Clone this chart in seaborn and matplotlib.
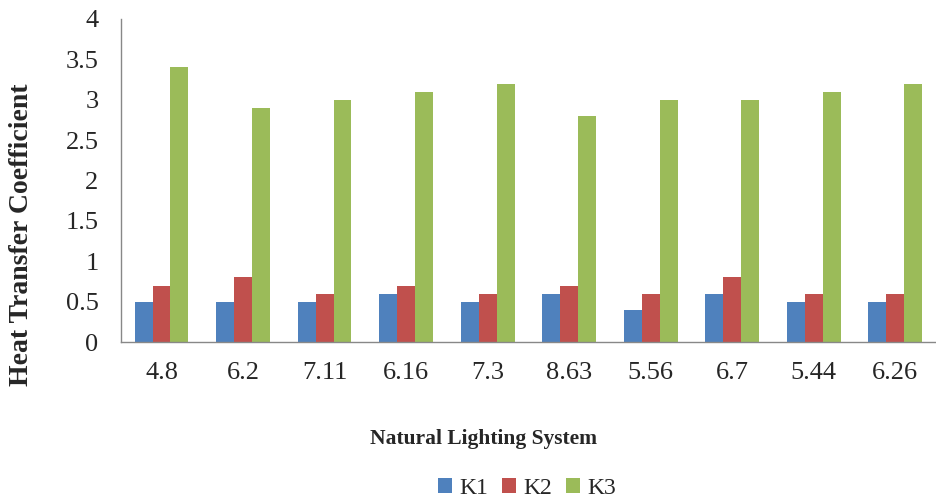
import matplotlib
matplotlib.use("Agg")
import matplotlib.pyplot as plt
import seaborn as sns
import pandas as pd
import numpy as np
from matplotlib.ticker import FixedLocator

categories = ["4.8", "6.2", "7.11", "6.16", "7.3", "8.63", "5.56", "6.7", "5.44", "6.26"]
k1 = [0.5, 0.5, 0.5, 0.6, 0.5, 0.6, 0.4, 0.6, 0.5, 0.5]
k2 = [0.7, 0.8, 0.6, 0.7, 0.6, 0.7, 0.6, 0.8, 0.6, 0.6]
k3 = [3.4, 2.9, 3.0, 3.1, 3.2, 2.8, 3.0, 3.0, 3.1, 3.2]
series = ["K1", "K2", "K3"]
yticks = [0, 0.5, 1, 1.5, 2, 2.5, 3, 3.5, 4]
ytick_labels = ["0", "0.5", "1", "1.5", "2", "2.5", "3", "3.5", "4"]

df = pd.DataFrame({
    "cat": categories * 3,
    "series": ["K1"] * 10 + ["K2"] * 10 + ["K3"] * 10,
    "value": k1 + k2 + k3,
})

sns.set_style("white")
plt.rcParams["font.family"] = ["Liberation Serif", "DejaVu Serif"]

fig = plt.figure(figsize=(9.36, 4.98), dpi=100)
ax = fig.add_axes([0.129, 0.313, 0.871, 0.649])

palette = {"K1": "#4F81BD", "K2": "#C0504D", "K3": "#9BBB59"}
sns.barplot(data=df, x="cat", y="value", hue="series", hue_order=series,
            order=categories, palette=palette, width=0.66, ax=ax,
            edgecolor="none", linewidth=0, saturation=1, legend=True)

ax.set_ylim(0, 4)
ax.set_xlim(-0.5, 9.5)
ax.set_yticks(yticks)
ax.set_yticklabels(ytick_labels, fontsize=19)
ax.tick_params(axis="y", direction="out", length=7, width=1, color="#888888", pad=9)
ax.tick_params(axis="x", which="major", length=0, labelsize=19, pad=14)
ax.xaxis.set_minor_locator(FixedLocator(np.arange(-0.5, 10, 1)))
ax.tick_params(axis="x", which="minor", direction="out", length=7, width=1, color="#888888")

for s in ["top", "right"]:
    ax.spines[s].set_visible(False)
for s in ["left", "bottom"]:
    ax.spines[s].set_color("#888888")
    ax.spines[s].set_linewidth(1)

ax.set_ylabel("Heat Transfer Coefficient", fontsize=20, fontweight="bold")
ax.yaxis.set_label_coords(-0.106, 0.331)
ax.set_xlabel("Natural Lighting System", fontsize=15.5, fontweight="bold")
ax.xaxis.set_label_coords(0.445, -0.27)

if ax.get_legend() is not None:
    ax.get_legend().remove()
handles, labels = ax.get_legend_handles_labels()
fig.legend(handles, labels, loc="center", bbox_to_anchor=(527 / 936, 1 - 488 / 498),
           ncol=3, frameon=False, fontsize=17, handlelength=0.6, handleheight=0.6,
           handletextpad=0.3, columnspacing=0.6, borderaxespad=0, borderpad=0)

fig.savefig("out.png", dpi=100)
